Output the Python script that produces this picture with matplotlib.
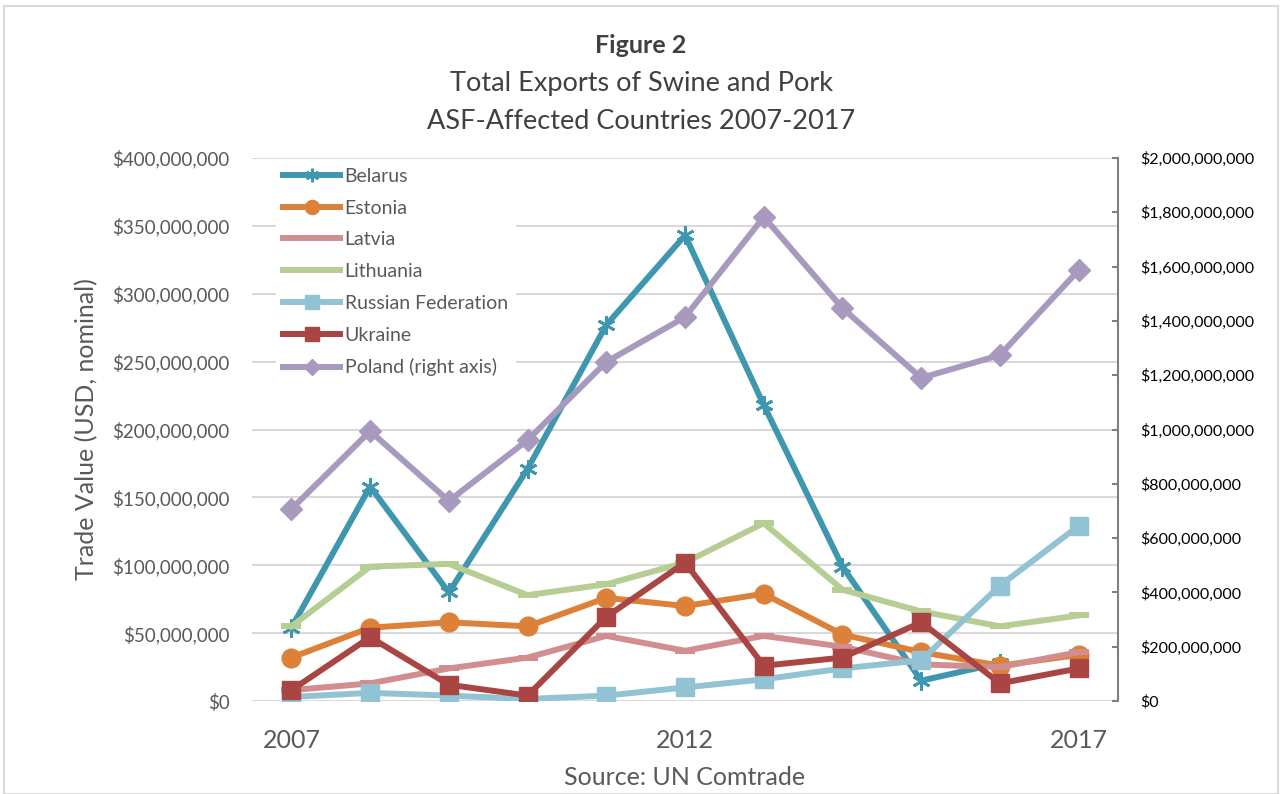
import numpy as np
import matplotlib
matplotlib.use("Agg")
import matplotlib.pyplot as plt
from matplotlib.ticker import FuncFormatter
from matplotlib.patches import Rectangle

plt.rcParams['font.family'] = ['Lato', 'DejaVu Sans']

years = list(range(2007, 2018))
year_labels = ["2007", "", "", "", "", "2012", "", "", "", "", "2017"]

# values in millions of USD
belarus = [54, 158, 80, 171, 277, 343, 218, 99, 15, 28, np.nan]
estonia = [32, 54, 58, 55, 76, 70, 79, 49, 36, 26, 34]
latvia = [8, 13, 24, 32, 48, 37, 48, 40, 27, 25, 36]
lithuania = [55, 99, 101, 78, 86, 102, 131, 82, 66, 55, 63]
russia = [3, 6, 4, 1.5, 4, 10, 16, 24, 30, 85, 129]
ukraine = [8, 47, 12, 4, 62, 102, 26, 32, 58, 13, 24]
poland = [707, 994, 737, 961, 1249, 1414, 1783, 1447, 1190, 1274, 1587]

text_col = "#595959"

fig = plt.figure(figsize=(12.82, 7.94), dpi=100)
fig.patches.append(Rectangle((0.003, 0.0), 0.994, 0.993, transform=fig.transFigure,
                             fill=False, edgecolor="#d9d9d9", lw=1.5))

ax = fig.add_axes([0.1966, 0.1171, 0.6755, 0.6839])
ax2 = ax.twinx()

x = np.arange(len(years))
M = 1e6
lw = 4.3

h = []
h += ax.plot(x, np.array(belarus) * M, color="#3e97ae", lw=lw, marker=(6, 2, 0), ms=13,
             mew=2, label="Belarus")
h += ax.plot(x, np.array(estonia) * M, color="#dd8139", lw=lw, marker="o", ms=13.5,
             label="Estonia")
h += ax.plot(x, np.array(latvia) * M, color="#d28e8f", lw=lw, marker="_", ms=14, mew=lw,
             label="Latvia")
h += ax.plot(x, np.array(lithuania) * M, color="#b6cd93", lw=lw, marker="_", ms=14, mew=lw,
             label="Lithuania")
h += ax.plot(x, np.array(russia) * M, color="#92c3d5", lw=lw, marker="s", ms=13.5,
             label="Russian Federation")
h += ax.plot(x, np.array(ukraine) * M, color="#a94543", lw=lw, marker="s", ms=13.5,
             label="Ukraine")
h += ax2.plot(x, np.array(poland) * M, color="#a899bf", lw=lw, marker="D", ms=11,
              label="Poland (right axis)")

ax.set_xlim(-0.5, 10.5)
ax.set_ylim(0, 400 * M)
ax2.set_ylim(0, 2000 * M)
ax.set_yticks(np.arange(0, 401, 50) * M)
ax2.set_yticks(np.arange(0, 2001, 200) * M)

fmt = FuncFormatter(lambda v, p: f"${v:,.0f}")
ax.yaxis.set_major_formatter(fmt)
ax2.yaxis.set_major_formatter(fmt)

ax.set_xticks(x)
ax.set_xticklabels(year_labels)
ax.tick_params(axis="x", length=0, pad=20, labelsize=18, labelcolor=text_col)
ax.tick_params(axis="y", length=0, pad=16, labelsize=13.5, labelcolor=text_col)
ax2.tick_params(axis="y", direction="in", length=4, color="#808080", width=1.5,
                pad=16, labelsize=11.5, labelcolor="black")

ax.grid(axis="y", color="#d9d9d9", lw=1.5)
ax.set_axisbelow(True)
for s in ["top", "left", "right", "bottom"]:
    ax.spines[s].set_visible(False)
for s in ["top", "left", "bottom"]:
    ax2.spines[s].set_visible(False)
ax2.spines["right"].set_color("#808080")
ax2.spines["right"].set_linewidth(1.5)

ax.set_ylabel("Trade Value (USD, nominal)", fontsize=18, color=text_col, labelpad=10)
ax.set_xlabel("Source: UN Comtrade", fontsize=18, color=text_col, labelpad=10)

leg = ax2.legend(h, [l.get_label() for l in h], loc="upper left",
                 bbox_to_anchor=(0.025, 1.0),
                 frameon=True, facecolor="white", edgecolor="none", framealpha=1,
                 fontsize=14, handlelength=2.9, handletextpad=0.25, labelspacing=0.76,
                 borderpad=0.4, borderaxespad=0.1, markerscale=0.75)
for t in leg.get_texts():
    t.set_color(text_col)

fig.text(0.5, 0.943, "Figure 2", ha="center", va="center", fontsize=18, fontweight="bold",
         color="#404040")
fig.text(0.5, 0.895, "Total Exports of Swine and Pork", ha="center", va="center",
         fontsize=19.5, color="#404040")
fig.text(0.5, 0.847, "ASF-Affected Countries 2007-2017", ha="center", va="center",
         fontsize=19.5, color="#404040")

fig.savefig("out.png", dpi=100)
